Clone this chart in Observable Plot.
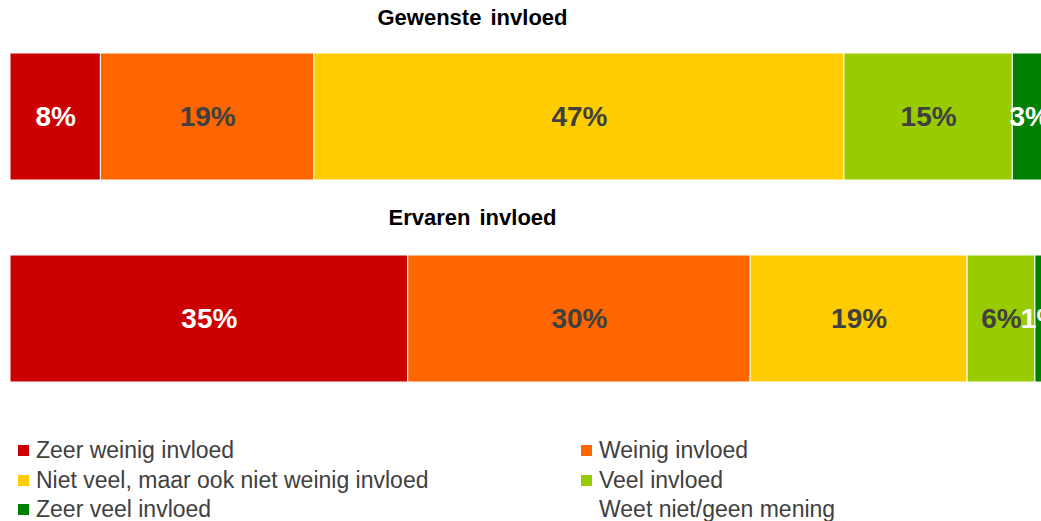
<!DOCTYPE html>
<html>
<head>
<meta charset="utf-8">
<script src="https://cdn.jsdelivr.net/npm/d3@7"></script>
<script src="https://cdn.jsdelivr.net/npm/@observablehq/plot@0.6"></script>
<style>
  html, body { margin: 0; padding: 0; background: #fff; overflow: hidden; }
  body { width: 1041px; height: 521px; font-family: "Liberation Sans", Arial, sans-serif; }
  .title { width: 945px; height: 36px; line-height: 36px; text-align: center; font-weight: bold; font-size: 22px; color: #000; word-spacing: 3px; }
  .legend { margin-top: 34px; display: grid; grid-template-columns: 563px 478px; }
  .item { height: 29.5px; display: flex; align-items: center; font-size: 23px; color: #404040; padding-left: 18px; white-space: nowrap; }
  .sw { width: 11px; height: 11px; margin-right: 7px; flex: none; }
  svg { display: block; }
</style>
</head>
<body>
<div id="chart"></div>
<script>
// ---- data ----
const categories = ["Zeer weinig invloed", "Weinig invloed", "Niet veel, maar ook niet weinig invloed", "Veel invloed", "Zeer veel invloed", "Weet niet/geen mening"];
const groups = ["Gewenste invloed", "Ervaren invloed"];
const gewensteValues = [8.0, 18.9, 46.9, 14.9, 3.0, 8.3];
const ervarenValues = [35.2, 30.3, 19.2, 6.0, 1.0, 8.3];
const labels = [
  ["8%", "19%", "47%", "15%", "3%", ""],
  ["35%", "30%", "19%", "6%", "1%", ""]
];
// ---- styling ----
const colors = ["#CC0000", "#FF6600", "#FFCC00", "#99CC00", "#008000", "#FFFFFF"];
const labelColors = ["#FFFFFF", "#404040", "#404040", "#404040", "#FFFFFF", "#404040"];
const xMax = 91.24; // visible part of the 0–100% axis

const series = [gewensteValues, ervarenValues];
const root = document.getElementById("chart");

groups.forEach((g, gi) => {
  const rows = categories.map((c, i) => ({category: c, value: series[gi][i], label: labels[gi][i], idx: i}));
  const t = document.createElement("div");
  t.className = "title";
  t.textContent = g;
  root.appendChild(t);
  const plot = Plot.plot({
    width: 1041,
    height: gi === 0 ? 164 : 166,
    marginTop: gi === 0 ? 17 : 19,
    marginBottom: 20,
    marginLeft: 10,
    marginRight: 0,
    style: {fontFamily: "Liberation Sans, Arial, sans-serif", background: "white"},
    x: {domain: [0, xMax], axis: null},
    color: {domain: categories, range: colors},
    marks: [
      Plot.barX(rows, {x: "value", fill: "category", stroke: "white", strokeWidth: 1, clip: true}),
      Plot.text(rows, Plot.stackX({x: "value", text: "label", fill: d => labelColors[d.idx], fontSize: 28, fontWeight: "bold", clip: true}))
    ]
  });
  root.appendChild(plot);
});

// legend (two columns, row-major)
const legend = document.createElement("div");
legend.className = "legend";
categories.forEach((c, i) => {
  const it = document.createElement("div");
  it.className = "item";
  const sw = document.createElement("span");
  sw.className = "sw";
  sw.style.background = colors[i];
  it.appendChild(sw);
  it.appendChild(document.createTextNode(c));
  legend.appendChild(it);
});
root.appendChild(legend);
</script>
</body>
</html>
